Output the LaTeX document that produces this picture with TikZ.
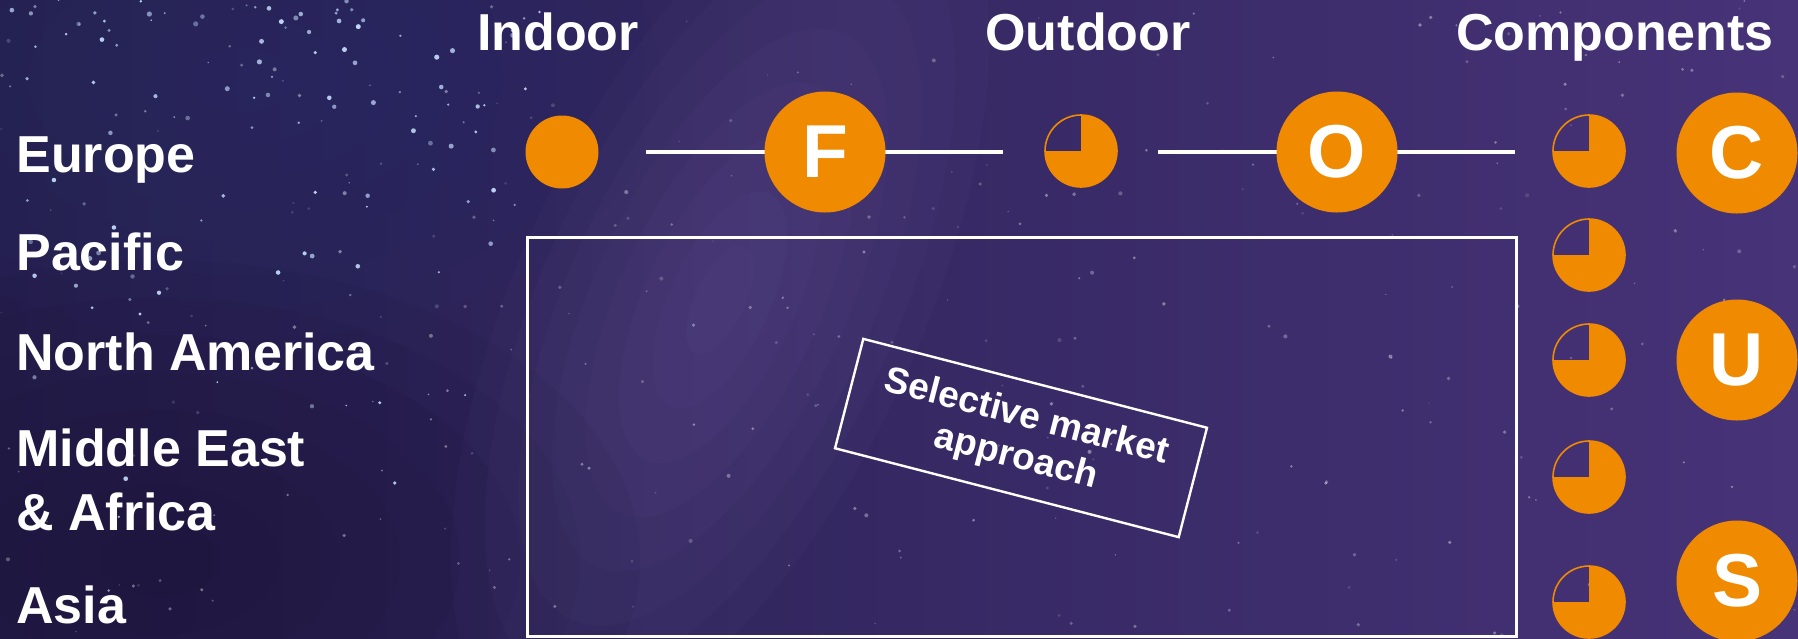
\documentclass[tikz,border=0pt]{standalone}
\usepackage{fontspec}
\setmainfont{Liberation Sans}

\definecolor{brand}{RGB}{240,138,0}
\definecolor{skyleft}{RGB}{36,30,78}
\definecolor{skymid}{RGB}{72,55,126}
\definecolor{skyright}{RGB}{71,51,120}
\definecolor{skydark}{RGB}{24,15,46}
\definecolor{skyblue}{RGB}{40,52,112}
\definecolor{milky}{RGB}{150,128,200}
\definecolor{starblue}{RGB}{200,225,255}

\tikzset{
  region/.style={text=white, inner sep=0pt, anchor=base west, align=left,
    font=\bfseries\fontsize{26}{32}\selectfont},
  head/.style={text=white, inner sep=0pt, anchor=base,
    font=\bfseries\fontsize{26}{32}\selectfont},
  dot/.style={circle, fill=brand, inner sep=0pt, minimum size=36.5pt},
  pie/.style={circle, draw=brand, line width=.8pt, inner sep=0pt, minimum size=36pt,
    path picture={
      \fill[brand] (path picture bounding box.west) rectangle (path picture bounding box.south east);
      \fill[brand] (path picture bounding box.center) rectangle (path picture bounding box.north east);
    }},
  letter/.style={circle, fill=brand, inner sep=0pt, minimum size=60.5pt, text=white,
    font=\bfseries\fontsize{37.5}{40}\selectfont},
  link/.style={white, line width=2pt},
}

\begin{document}
\begin{tikzpicture}[x=0.5pt, y=-0.5pt]
\useasboundingbox (0,0) rectangle (1798,638);

% night sky, soft patches built from stacked ellipses
\shade[left color=skyleft, middle color=skymid, right color=skyright] (0,0) rectangle (1798,638);
\foreach \k in {1,...,8}{
  \fill[skyblue, opacity=.06] (240,80) ellipse [x radius={420*\k/8}, y radius={260*\k/8}];
  \fill[skydark, opacity=.07] (160,560) ellipse [x radius={480*\k/8}, y radius={300*\k/8}];
  \fill[milky, opacity=.035, rotate around={-25:(720,300)}]
    (720,300) ellipse [x radius={200*\k/8}, y radius={470*\k/8}];
}

% stars
\pgfmathsetseed{17}
\foreach \i in {1,...,130}{
  \pgfmathsetmacro\sx{rnd*540}
  \pgfmathsetmacro\sy{rnd*rnd*638}
  \pgfmathsetmacro\sr{0.8+rnd*1.8}
  \pgfmathsetmacro\so{0.35+rnd*0.6}
  \fill[starblue, opacity=\so] (\sx,\sy) circle [radius=\sr];
}
\foreach \i in {1,...,260}{
  \pgfmathsetmacro\sx{rnd*1798}
  \pgfmathsetmacro\sy{rnd*638}
  \pgfmathsetmacro\sr{0.7+rnd*1.4}
  \pgfmathsetmacro\so{0.12+rnd*0.3}
  \fill[white, opacity=\so] (\sx,\sy) circle [radius=\sr];
}

% column heads
\node[head] (indoor)  at (558,50)  {Indoor};
\node[head] (outdoor) at (1088,50) {Outdoor};
\node[head] (comps)   at (1615,50) {Components};

% regions (base of a two-line node is its last line)
\node[region] (europe)  at (16,172.7) {Europe};
\node[region] (pacific) at (16,270.7) {Pacific};
\node[region] (namer)   at (16,370)   {North America};
\node[region] (mea)     at (16,530)   {Middle East\\\& Africa};
\node[region] (asia)    at (16,623.3) {Asia};

% links behind the letters
\coordinate (fleft)  at (646,152);
\coordinate (fright) at (1003,152);
\coordinate (oleft)  at (1158,152);
\coordinate (oright) at (1515,152);
\draw[link] (fleft) -- (fright);
\draw[link] (oleft) -- (oright);

\node[dot] (indoor eu) at (562,152) {};
\node[letter] (F) at (825,152) {F};
\node[pie] (outdoor eu) at (1081,151) {};
\node[letter] (O) at (1337,152) {O};

% components column
\node[pie] (comp eu)   at (1589,151) {};
\node[pie] (comp pac)  at (1589,255) {};
\node[pie] (comp na)   at (1589,360) {};
\node[pie] (comp mea)  at (1589,477) {};
\node[pie] (comp asia) at (1589,602) {};
\node[letter] (C) at (1737,153) {C};
\node[letter] (U) at (1737,360) {U};
\node[letter] (S) at (1737,581) {S};

% market frame
\draw[white, line width=1.5pt] (527,237) rectangle (1516,636);
\node[draw=white, line width=1.2pt, rotate=-14.5, minimum width=177.5pt, minimum height=56.5pt,
  align=center, text=white, font=\bfseries\fontsize{18.5}{21}\selectfont]
  (selective) at (1021,438) {Selective market\\approach};
\end{tikzpicture}
\end{document}
